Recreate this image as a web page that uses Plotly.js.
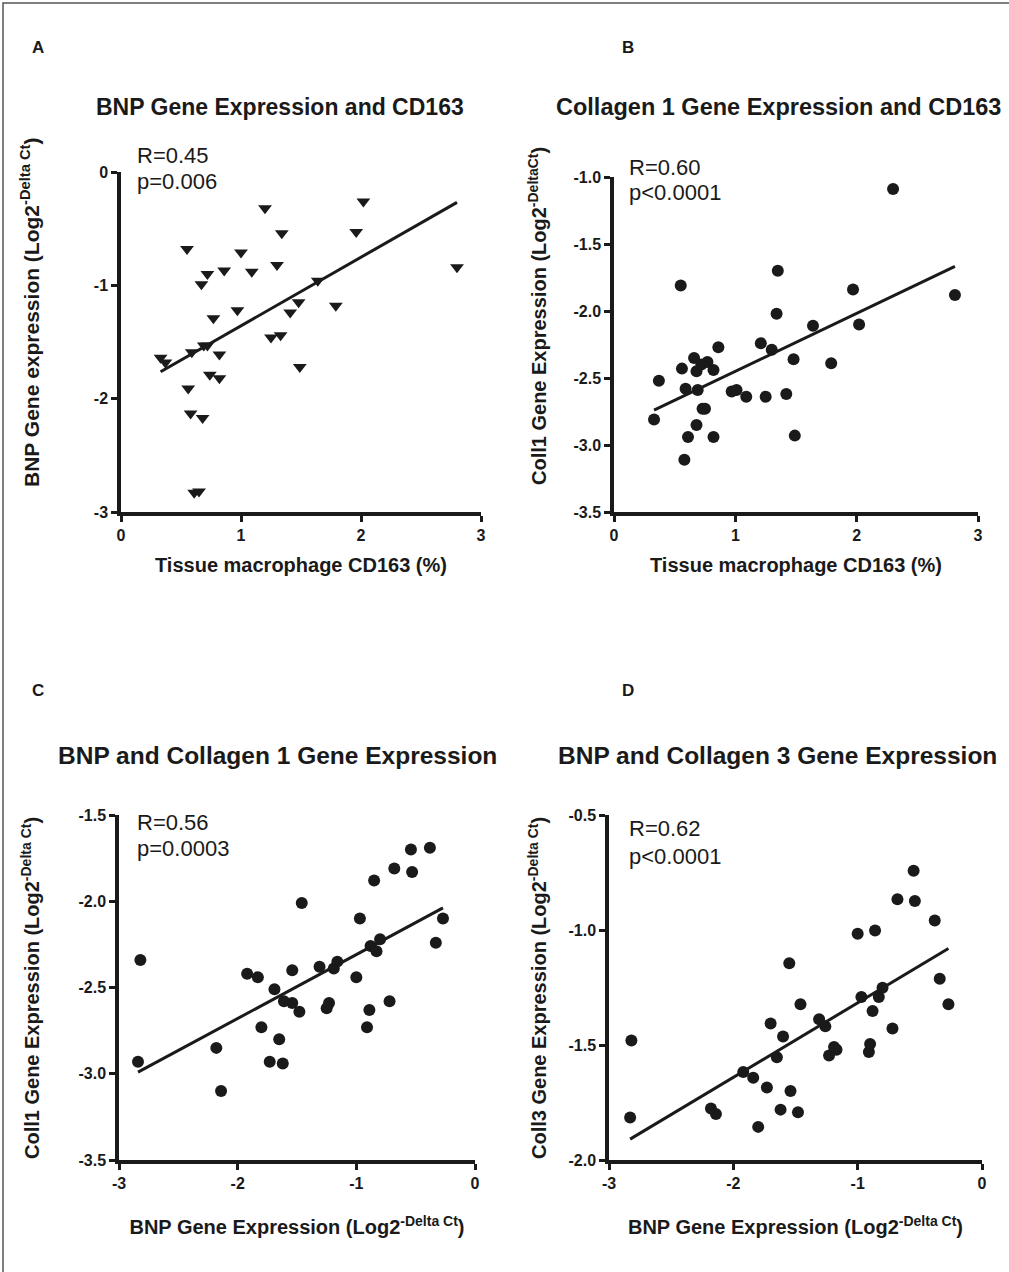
<!DOCTYPE html>
<html>
<head>
<meta charset="utf-8">
<script src="https://cdn.plot.ly/plotly-3.0.1.min.js"></script>
<style>html,body{margin:0;padding:0;background:#fff}#chart{width:1009px;height:1272px}</style>
</head>
<body>
<div id="chart"></div>
<script>
// ---------- data ----------
const aX = [0.33,0.37,0.55,0.56,0.58,0.59,0.61,0.65,0.67,0.68,0.69,0.72,0.72,0.74,0.77,0.82,0.82,0.86,0.97,1.00,1.09,1.20,1.25,1.30,1.33,1.34,1.41,1.48,1.49,1.64,1.79,1.96,2.02,2.80];
const aY = [-1.64,-1.68,-0.68,-1.91,-2.13,-1.59,-2.83,-2.82,-0.99,-2.17,-1.53,-0.90,-1.53,-1.79,-1.29,-1.61,-1.82,-0.87,-1.22,-0.71,-0.88,-0.32,-1.46,-0.82,-1.44,-0.54,-1.24,-1.15,-1.72,-0.96,-1.18,-0.53,-0.26,-0.84];

const bX = [0.33,0.37,0.55,0.56,0.59,0.58,0.61,0.66,0.68,0.68,0.69,0.72,0.73,0.75,0.77,0.82,0.82,0.86,0.97,1.01,1.09,1.21,1.25,1.30,1.34,1.35,1.42,1.48,1.49,1.64,1.79,1.97,2.02,2.30,2.81];
const bY = [-2.81,-2.52,-1.81,-2.43,-2.58,-3.11,-2.94,-2.35,-2.45,-2.85,-2.59,-2.40,-2.73,-2.73,-2.38,-2.44,-2.94,-2.27,-2.60,-2.59,-2.64,-2.24,-2.64,-2.29,-2.02,-1.70,-2.62,-2.36,-2.93,-2.11,-2.39,-1.84,-2.10,-1.09,-1.88];

const cX = [-2.82,-2.84,-2.18,-2.14,-1.92,-1.83,-1.80,-1.73,-1.69,-1.65,-1.62,-1.61,-1.54,-1.54,-1.48,-1.46,-1.31,-1.25,-1.23,-1.19,-1.16,-1.00,-0.97,-0.91,-0.89,-0.88,-0.85,-0.83,-0.80,-0.72,-0.68,-0.54,-0.53,-0.38,-0.33,-0.27];
const cY = [-2.34,-2.93,-2.85,-3.10,-2.42,-2.44,-2.73,-2.93,-2.51,-2.80,-2.94,-2.58,-2.40,-2.59,-2.64,-2.01,-2.38,-2.62,-2.59,-2.39,-2.35,-2.44,-2.10,-2.73,-2.63,-2.26,-1.88,-2.29,-2.22,-2.58,-1.81,-1.70,-1.83,-1.69,-2.24,-2.10];

const dX = [-2.82,-2.83,-2.18,-2.14,-1.92,-1.84,-1.80,-1.73,-1.70,-1.65,-1.62,-1.60,-1.55,-1.54,-1.48,-1.46,-1.31,-1.26,-1.23,-1.19,-1.17,-1.00,-0.97,-0.91,-0.90,-0.88,-0.86,-0.83,-0.80,-0.72,-0.68,-0.55,-0.54,-0.38,-0.34,-0.27];
const dY = [-1.48,-1.815,-1.776,-1.80,-1.617,-1.642,-1.856,-1.685,-1.407,-1.553,-1.781,-1.463,-1.145,-1.70,-1.792,-1.323,-1.388,-1.419,-1.546,-1.509,-1.521,-1.016,-1.291,-1.530,-1.496,-1.352,-1.002,-1.291,-1.251,-1.428,-0.866,-0.742,-0.874,-0.959,-1.212,-1.323];

const panelLetters = ["A","B","C","D"];
const panelTitles = ["BNP Gene Expression and CD163","Collagen 1 Gene Expression and CD163","BNP and Collagen 1 Gene Expression","BNP and Collagen 3 Gene Expression"];
const statR = ["R=0.45","R=0.60","R=0.56","R=0.62"];
const statP = ["p=0.006","p<0.0001","p=0.0003","p<0.0001"];
const xTitles = ["Tissue macrophage CD163 (%)","Tissue macrophage CD163 (%)","BNP Gene Expression (Log2<sup>-Delta Ct</sup>)","BNP Gene Expression (Log2<sup>-Delta Ct</sup>)"];
const yTitles = ["BNP Gene expression (Log2<sup>-Delta Ct</sup>)","Coll1 Gene Expression (Log2<sup>-DeltaCt</sup>)","Coll1 Gene Expression (Log2<sup>-Delta Ct</sup>)","Coll3 Gene Expression (Log2<sup>-Delta Ct</sup>)"];
const xTickValsAB = [0,1,2,3];
const xTickTextAB = ["0","1","2","3"];
const xTickValsCD = [-3,-2,-1,0];
const xTickTextCD = ["-3","-2","-1","0"];
const yTickValsA = [0,-1,-2,-3];
const yTickTextA = ["0","-1","-2","-3"];
const yTickValsB = [-1.0,-1.5,-2.0,-2.5,-3.0,-3.5];
const yTickTextB = ["-1.0","-1.5","-2.0","-2.5","-3.0","-3.5"];
const yTickValsC = [-1.5,-2.0,-2.5,-3.0,-3.5];
const yTickTextC = ["-1.5","-2.0","-2.5","-3.0","-3.5"];
const yTickValsD = [-0.5,-1.0,-1.5,-2.0];
const yTickTextD = ["-0.5","-1.0","-1.5","-2.0"];
const xRanges = [[0,3],[0,3],[-3,0],[-3,0]];
const yRanges = [[-3,0],[-3.5,-1.0],[-3.5,-1.5],[-2.0,-0.5]];

// ---------- helpers ----------
function fitLine(x, y){
  const n = x.length;
  const mx = x.reduce((s,v)=>s+v,0)/n, my = y.reduce((s,v)=>s+v,0)/n;
  let sxy=0, sxx=0;
  for(let i=0;i<n;i++){ sxy+=(x[i]-mx)*(y[i]-my); sxx+=(x[i]-mx)**2; }
  const b = sxy/sxx, a = my - b*mx;
  const x0 = Math.min(...x), x1 = Math.max(...x);
  return {x:[x0,x1], y:[a+b*x0, a+b*x1]};
}

const W = 1009, H = 1272;
const INK = '#1a1a1a';
const FONT = 'Liberation Sans, Arial, Helvetica, sans-serif';

// pixel boxes of plotting areas: [left, right, top, bottom]
const boxes = [[121,481,172,512],[614,978,177,512],[119,475,815,1160],[609,982,815,1160]];
const sets = [[aX,aY,'triangle-down'],[bX,bY,'circle'],[cX,cY,'circle'],[dX,dY,'circle']];
const yTV = [yTickValsA,yTickValsB,yTickValsC,yTickValsD];
const yTT = [yTickTextA,yTickTextB,yTickTextC,yTickTextD];
const xTV = [xTickValsAB,xTickValsAB,xTickValsCD,xTickValsCD];
const xTT = [xTickTextAB,xTickTextAB,xTickTextCD,xTickTextCD];
const xStandoff = [16,16,30,30];

const traces = [];
const layout = {
  width: W, height: H,
  margin: {l:0,r:0,t:0,b:0},
  paper_bgcolor: '#fff', plot_bgcolor: 'rgba(0,0,0,0)',
  showlegend: false,
  font: {family: FONT, color: INK},
  annotations: [],
  shapes: [{type:'rect', xref:'paper', yref:'paper', x0:3/W, x1:1.02, y0:-0.02, y1:1-3/H,
            line:{color:'#555', width:1.5}}]
};

for(let k=0;k<4;k++){
  const [xs, ys, sym] = sets[k];
  const xa = k===0 ? 'x' : 'x'+(k+1), ya = k===0 ? 'y' : 'y'+(k+1);
  const xKey = k===0 ? 'xaxis' : 'xaxis'+(k+1), yKey = k===0 ? 'yaxis' : 'yaxis'+(k+1);
  traces.push({type:'scatter', mode:'markers', x:xs, y:ys, xaxis:xa, yaxis:ya, cliponaxis:false,
    marker:{symbol:sym, size:12, color:INK, line:{width:0}}});
  const f = fitLine(xs, ys);
  traces.push({type:'scatter', mode:'lines', x:f.x, y:f.y, xaxis:xa, yaxis:ya,
    line:{color:INK, width:3}});
  const [l,r,t,b] = boxes[k];
  layout[xKey] = {
    domain:[l/W, r/W], anchor: ya, range: xRanges[k],
    showgrid:false, zeroline:false, showline:true, linecolor:INK, linewidth:3.5,
    ticks:'outside', ticklen:6, tickwidth:3, tickcolor:INK,
    tickmode:'array', tickvals: xTV[k], ticktext: xTT[k],
    tickfont:{family:FONT, size:16, weight:700, color:INK},
    title:{text:xTitles[k], font:{family:FONT, size:20, weight:700, color:INK}, standoff:xStandoff[k]}
  };
  layout[yKey] = {
    domain:[1-b/H, 1-t/H], anchor: xa, range: yRanges[k],
    showgrid:false, zeroline:false, showline:true, linecolor:INK, linewidth:3.5,
    ticks:'outside', ticklen:6, tickwidth:3, tickcolor:INK,
    tickmode:'array', tickvals: yTV[k], ticktext: yTT[k],
    tickfont:{family:FONT, size:16, weight:700, color:INK},
    title:{text:''}
  };
}

// panel letters, titles, y-axis titles and statistics
const letterPos = [[38,48],[628,48],[38,690],[628,690]];
const titlePos = [[280,107],[778,107],[277,755],[777,755]];
const titleSize = [23,23.5,24.5,24.5];
const yTitlePos = [[30,313],[537,316],[30,988],[537,988]];
const yTitleSize = [21,20,20,20];
const rPos = [[135,155],[627,167],[135,822],[627,828]];
const pPos = [[135,181],[627,193],[135,848],[627,856]];
for(let k=0;k<4;k++){
  layout.annotations.push({xref:'paper', yref:'paper', x:letterPos[k][0]/W, y:1-letterPos[k][1]/H,
    text:panelLetters[k], showarrow:false, xanchor:'center', yanchor:'middle',
    font:{size:17, weight:700, color:INK}});
  layout.annotations.push({xref:'paper', yref:'paper', x:titlePos[k][0]/W, y:1-titlePos[k][1]/H,
    text:panelTitles[k], showarrow:false, xanchor:'center', yanchor:'middle',
    font:{size:titleSize[k], weight:700, color:INK}});
  layout.annotations.push({xref:'paper', yref:'paper', x:yTitlePos[k][0]/W, y:1-yTitlePos[k][1]/H,
    text:yTitles[k], showarrow:false, textangle:-90, xanchor:'center', yanchor:'middle',
    font:{size:yTitleSize[k], weight:700, color:INK}});
  layout.annotations.push({xref:'paper', yref:'paper', x:rPos[k][0]/W, y:1-rPos[k][1]/H,
    text:statR[k], showarrow:false, xanchor:'left', yanchor:'middle',
    font:{size:22, color:INK}});
  layout.annotations.push({xref:'paper', yref:'paper', x:pPos[k][0]/W, y:1-pPos[k][1]/H,
    text:statP[k], showarrow:false, xanchor:'left', yanchor:'middle',
    font:{size:22, color:INK}});
}

Plotly.newPlot('chart', traces, layout, {displayModeBar:false});
</script>
</body>
</html>
